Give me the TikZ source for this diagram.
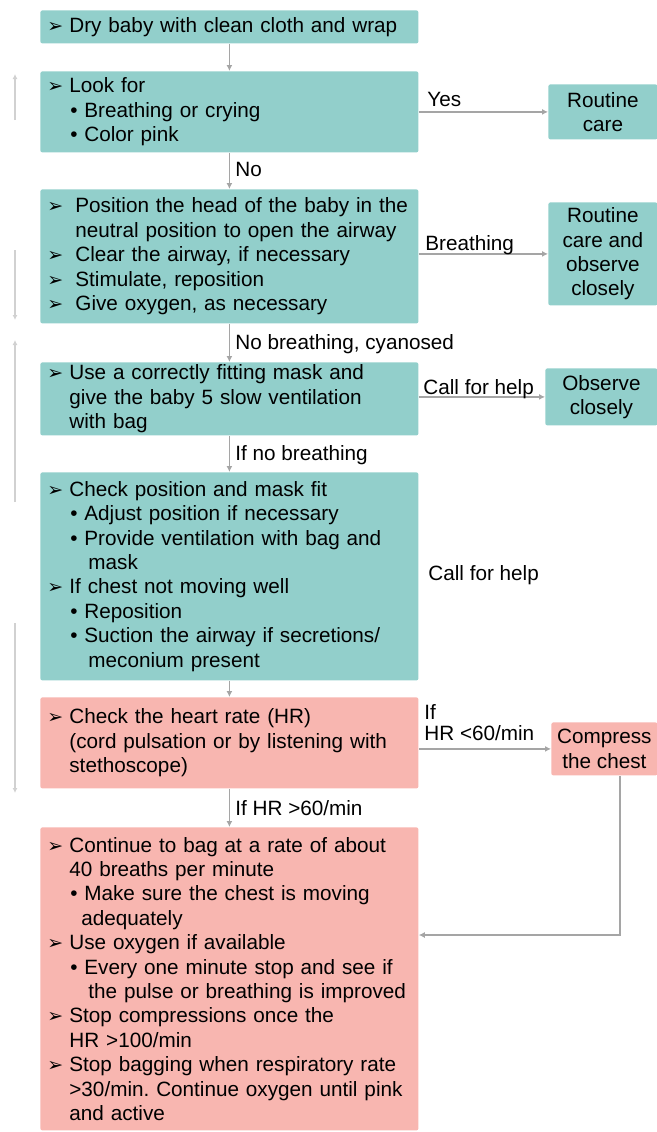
\documentclass[tikz,border=0pt]{standalone}
\usepackage{fontspec}
\setmainfont{Liberation Sans}
\newfontfamily\symfont{DejaVu Sans}
\usetikzlibrary{arrows.meta}
\definecolor{boxteal}{RGB}{146,207,203}
\definecolor{boxpink}{RGB}{248,182,176}
\definecolor{linegray}{RGB}{165,165,165}
\newcommand\ar[1][11pt]{\makebox[#1][l]{\fontsize{9.5}{9.5}\symfont ➢}}
\newcommand\bul{\hspace*{11.5pt}\makebox[7pt][l]{\textbullet}}
\frenchspacing
\begin{document}
\begin{tikzpicture}[x=0.5pt, y=-0.5pt,
  every node/.style={font=\fontsize{10.35}{12.2}\selectfont},
  stepbox/.style={fill=#1, anchor=north west, align=left, text width=186pt,
    inner xsep=1.5pt, inner ysep=1pt, rounded corners=1pt,
    execute at begin node={\leftskip=2pt\hyphenpenalty=10000\relax}},
  sidebox/.style={fill=#1, anchor=north west, align=center, inner sep=1pt,
    rounded corners=1pt},
  conn/.style={draw=linegray, line width=0.9pt, -{Latex[length=3pt,width=3pt]}},
  faint/.style={draw=black!18, line width=0.8pt, -{Latex[length=2.5pt,width=2.5pt]}},
  lbl/.style={anchor=base west, inner sep=0pt}]
  \useasboundingbox (0,0) rectangle (657,1132);
  \node[stepbox=boxteal, minimum height=16.5pt] (dry) at (40,10)
    {\ar Dry baby with clean cloth and wrap};
  \node[stepbox=boxteal, minimum height=40.5pt] (look) at (40,71)
    {\ar Look for\\\bul Breathing or crying\\\bul Color pink};
  \node[stepbox=boxteal, minimum height=67pt] (pos) at (40,189)
    {\ar[14pt]Position the head of the baby in the\\
     \hspace*{14pt}neutral position to open the airway\\
     \ar[14pt]Clear the airway, if necessary\\
     \ar[14pt]Stimulate, reposition\\
     \ar[14pt]Give oxygen, as necessary};
  \node[stepbox=boxteal, minimum height=36.5pt] (mask) at (40,362)
    {\ar Use a correctly fitting mask and\\
     \hspace*{11pt}give the baby 5 slow ventilation\\
     \hspace*{11pt}with bag};
  \node[stepbox=boxteal, minimum height=104pt] (chk) at (40,472)
    {\ar Check position and mask fit\\
     \bul Adjust position if necessary\\
     \bul Provide ventilation with bag and\\
     \hspace*{20.5pt}mask\\
     \ar If chest not moving well\\
     \bul Reposition\\
     \bul Suction the airway if secretions/\\
     \hspace*{20.5pt}meconium present};
  \node[stepbox=boxpink, minimum height=45.5pt] (hr) at (40,697)
    {\ar Check the heart rate (HR)\\
     \hspace*{11pt}(cord pulsation or by listening with\\
     \hspace*{11pt}stethoscope)};
  \node[stepbox=boxpink, minimum height=151.5pt] (cont) at (40,827)
    {\ar Continue to bag at a rate of about\\
     \hspace*{11pt}40 breaths per minute\\
     \bul Make sure the chest is moving\\
     \hspace*{17pt}adequately\\
     \ar Use oxygen if available\\
     \bul Every one minute stop and see if\\
     \hspace*{20.5pt}the pulse or breathing is improved\\
     \ar Stop compressions once the\\
     \hspace*{11pt}HR >100/min\\
     \ar Stop bagging when respiratory rate\\
     \hspace*{11pt}>30/min. Continue oxygen until pink\\
     \hspace*{11pt}and active};
  \node[sidebox=boxteal, minimum width=54.5pt, minimum height=27.5pt] (care) at (548,84)
    {Routine\\care};
  \node[sidebox=boxteal, minimum width=54.5pt, minimum height=51.5pt] (rcare) at (548,202)
    {Routine\\care and\\observe\\closely};
  \node[sidebox=boxteal, minimum width=56pt, minimum height=28.5pt] (obs) at (545,368)
    {Observe\\closely};
  \node[sidebox=boxpink, minimum width=53pt, minimum height=26.5pt] (cmp) at (551,722)
    {Compress\\the chest};
  \draw[conn] (dry) -- (look);
  \draw[conn] (look) -- (pos);
  \draw[conn] (pos) -- (mask);
  \draw[conn] (mask) -- (chk);
  \draw[conn] (chk) -- (hr);
  \draw[conn] (hr) -- (cont);
  \draw[conn] (look.east |- care) -- (care.west);
  \draw[conn] (pos.east |- rcare) -- (rcare.west);
  \draw[conn] (mask.east |- obs) -- (obs.west);
  \draw[conn] (hr.east |- cmp) -- (cmp.west);
  \coordinate (ret) at (620,935);
  \draw[conn] (cmp.south -| ret) -- (ret) -- (ret -| cont.east);
  \node[lbl] (no) at (235,176) {No};
  \node[lbl] (nobr) at (235,349) {No breathing, cyanosed};
  \node[lbl] (ifno) at (235,460) {If no breathing};
  \node[lbl] (ifhr) at (235,815) {If HR >60/min};
  \node[lbl] (yes) at (427,106) {Yes};
  \node[lbl] (brth) at (425,250) {Breathing};
  \node[lbl] (help) at (423,394) {Call for help};
  \node[lbl] (help2) at (428,580) {Call for help};
  \node[lbl] (iflo) at (424,719) {If};
  \node[lbl] (hrlo) at (424,740) {HR <60/min};
  \foreach \a/\b in {120/74, 250/320, 502/340, 623/793}
    \draw[faint] (15,\a) -- (15,\b);
\end{tikzpicture}
\end{document}
